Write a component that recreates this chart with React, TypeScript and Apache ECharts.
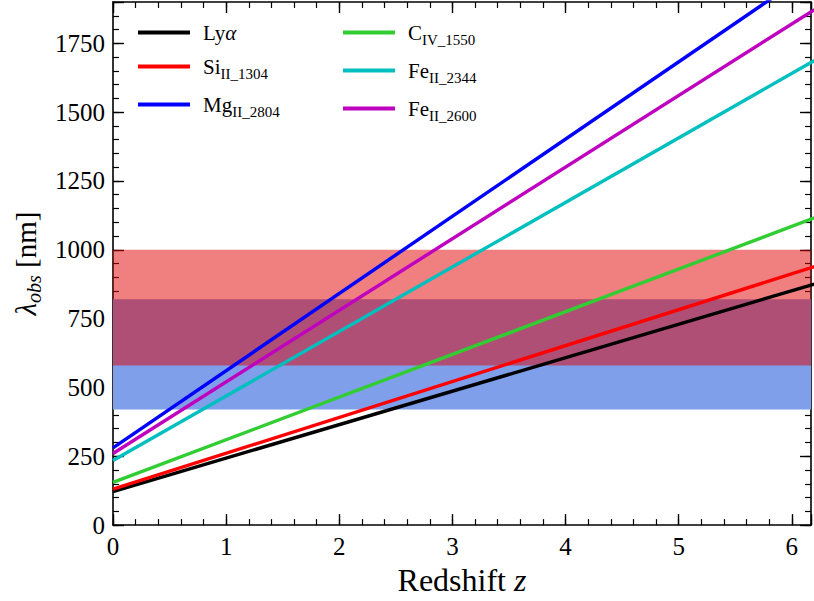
import React, { useEffect, useRef } from "react";
import * as echarts from "echarts";

// Redshift endpoints of each line and observed wavelength (nm) there
const redshifts = [0, 6.2];
const lyaValues = [121.6, 875.5];
const si1304Values = [130.4, 938.9];
const mg2804Values = [280.4, 2018.9];
const c1550Values = [155.0, 1116.0];
const fe2344Values = [234.4, 1687.7];
const fe2600Values = [260.0, 1872.0];

// Observed bands (nm)
const blueBand = [420, 820];
const redBand = [580, 1000];

const seriesNames = ["Lyα", "SiII_1304", "MgII_2804", "CIV_1550", "FeII_2344", "FeII_2600"];
const seriesValues = [lyaValues, si1304Values, mg2804Values, c1550Values, fe2344Values, fe2600Values];
const seriesColors = ["#000000", "#ff0000", "#0000ff", "#32cd32", "#00bfbf", "#bf00bf"];
const legendRich: Record<string, string> = {
  "Lyα": "{m|Ly}{mi|α}",
  "SiII_1304": "{m|Si}{s|II_1304}",
  "MgII_2804": "{m|Mg}{s|II_2804}",
  "CIV_1550": "{m|C}{s|IV_1550}",
  "FeII_2344": "{m|Fe}{s|II_2344}",
  "FeII_2600": "{m|Fe}{s|II_2600}",
};

const X_MAX = 6.17;
const Y_MAX = 1900;
const FONT = "Liberation Serif";

export default function App() {
  const ref = useRef<HTMLDivElement>(null);
  useEffect(() => {
    if (!ref.current) return;
    const chart = echarts.init(ref.current, null, { renderer: "svg" });
    const axisLine = { show: true, onZero: false, lineStyle: { color: "#000", width: 1.6 } };
    const ghostLine = { show: true, onZero: false, lineStyle: { color: "rgba(0,0,0,0)", width: 0 } };
    const majorTick = { show: true, inside: true, length: 11, lineStyle: { color: "#000", width: 1.4 } };
    const minorTick = { show: true, inside: true, length: 6, lineStyle: { color: "#000", width: 1.2 } };
    const hidden = { show: false };
    const intFmt = (step: number) => (v: number) => (Math.abs(v / step - Math.round(v / step)) < 1e-9 ? String(v) : "");

    const xBase = { type: "value", min: 0, max: X_MAX, splitLine: hidden, gridIndex: 0 };
    const yBase = { type: "value", min: 0, max: Y_MAX, splitLine: hidden, gridIndex: 0 };

    const legendText = {
      fontFamily: FONT,
      color: "#000",
      padding: [0, 0, 0, 8],
      rich: {
        m: { fontFamily: FONT, fontSize: 21, lineHeight: 29, color: "#000" },
        mi: { fontFamily: FONT, fontStyle: "italic", fontSize: 21, lineHeight: 29, color: "#000" },
        s: { fontFamily: FONT, fontSize: 15, verticalAlign: "bottom", color: "#000" },
      },
    };
    const legendBase = {
      orient: "vertical",
      top: 22,
      padding: 0,
      icon: "rect",
      itemWidth: 52,
      itemHeight: 4,
      itemGap: 13,
      formatter: (n: string) => legendRich[n],
      textStyle: legendText,
      selectedMode: false,
    };

    const lineSeries = seriesNames.map((name, i) => ({
      name,
      type: "line",
      xAxisIndex: 0,
      yAxisIndex: 0,
      data: redshifts.map((z, j) => [z, seriesValues[i][j]]),
      showSymbol: false,
      symbol: "none",
      lineStyle: { color: seriesColors[i], width: 3.4 },
      itemStyle: { color: seriesColors[i] },
      clip: true,
      z: 3,
    }));

    chart.setOption({
      animation: false,
      backgroundColor: "#fff",
      textStyle: { fontFamily: FONT },
      grid: { left: 113, right: 2, top: 2, bottom: 74, containLabel: false },
      legend: [
        { ...legendBase, left: 138, data: seriesNames.slice(0, 3) },
        { ...legendBase, left: 343, data: seriesNames.slice(3) },
      ],
      xAxis: [
        {
          ...xBase,
          position: "bottom",
          interval: 1,
          axisLine,
          axisTick: majorTick,
          axisLabel: { show: true, fontFamily: FONT, fontSize: 25, color: "#000", margin: 9, formatter: intFmt(1) },
          name: "{r|Redshift }{i|z}",
          nameLocation: "middle",
          nameGap: 36,
          nameTextStyle: {
            rich: {
              r: { fontFamily: FONT, fontSize: 32, color: "#000" },
              i: { fontFamily: FONT, fontSize: 32, fontStyle: "italic", color: "#000" },
            },
          },
        },
        { ...xBase, position: "bottom", interval: 0.2, axisLine: ghostLine, axisTick: minorTick, axisLabel: hidden },
        { ...xBase, position: "top", interval: 1, axisLine, axisTick: majorTick, axisLabel: hidden },
        { ...xBase, position: "top", interval: 0.2, axisLine: ghostLine, axisTick: minorTick, axisLabel: hidden },
      ],
      yAxis: [
        {
          ...yBase,
          position: "left",
          interval: 250,
          axisLine,
          axisTick: majorTick,
          axisLabel: { show: true, fontFamily: FONT, fontSize: 25, color: "#000", margin: 8, formatter: intFmt(250) },
          name: "{l|λ}{s|obs}{r| [nm]}",
          nameLocation: "middle",
          nameGap: 68,
          nameTextStyle: {
            rich: {
              l: { fontFamily: FONT, fontSize: 29, fontStyle: "italic", lineHeight: 36, color: "#000" },
              s: { fontFamily: FONT, fontSize: 20, fontStyle: "italic", verticalAlign: "bottom", color: "#000" },
              r: { fontFamily: FONT, fontSize: 29, lineHeight: 36, color: "#000" },
            },
          },
        },
        { ...yBase, position: "left", interval: 50, axisLine: ghostLine, axisTick: minorTick, axisLabel: hidden },
        { ...yBase, position: "right", interval: 250, axisLine, axisTick: majorTick, axisLabel: hidden },
        { ...yBase, position: "right", interval: 50, axisLine: ghostLine, axisTick: minorTick, axisLabel: hidden },
      ],
      series: [
        {
          name: "bands",
          type: "line",
          xAxisIndex: 0,
          yAxisIndex: 0,
          data: [],
          silent: true,
          z: 1,
          markArea: {
            silent: true,
            data: [
              [
                { yAxis: blueBand[0], itemStyle: { color: "#7f9fea", opacity: 1 } },
                { yAxis: blueBand[1] },
              ],
              [
                { yAxis: redBand[0], itemStyle: { color: "rgba(225,0,0,0.5)", opacity: 1 } },
                { yAxis: redBand[1] },
              ],
            ],
          },
        },
        ...lineSeries,
      ],
    });
    return () => chart.dispose();
  }, []);
  return <div ref={ref} style={{ width: 814, height: 601, position: "absolute", left: 0, top: 0 }} />;
}
